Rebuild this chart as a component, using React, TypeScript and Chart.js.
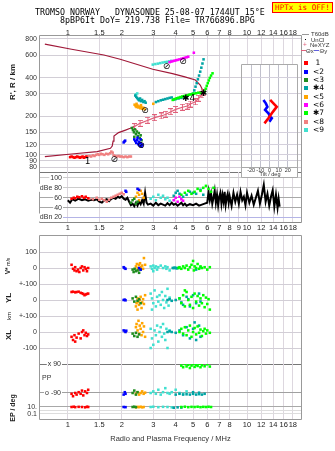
import React, { useEffect, useRef } from 'react';
import { Chart, registerables } from 'chart.js';

Chart.register(...registerables);

const SANS = "'Liberation Sans', Arial, sans-serif";
const MONO = "'DejaVu Sans Mono', 'Liberation Mono', monospace";
const GRID = '#ddd7df';
const HGRID = '#d2ced6';
const X_MIN = 0.745;
const X_MAX = 20;

type Pt = [number, number];

// ---------- axes / ticks ----------
const freqLabelsTop = [1, 1.5, 2, 3, 4, 5, 6, 7, 8, 10, 12, 14, 16, 18];
const freqLabelsMid = [1, 1.5, 2, 3, 4, 5, 6, 7, 8, 9, 10, 12, 14, 16, 18];
const heightTicks = [80, 90, 100, 120, 150, 200, 300, 400, 600, 800];
const dbTicks = [20, 40, 60, 80, 100];
const tiltTicks = [-20, -10, 0, 10, 20];

const classColors = ['#ff0000', '#0000ff', '#1e8c1e', '#00a4a4', '#ffa500', '#ff00ff', '#00ff00', '#f08080', '#40e0d0'];
const classGlyphs = ['', '<', '<', '\u2731', '<', '<', '\u2731', '<', '<'];
const classNames = ['1', '2', '3', '4', '5', '6', '7', '8', '9'];

// ---------- height panel (f MHz, virtual height km) ----------
const c1Height: Pt[] = [[1.03, 96], [1.05, 97], [1.07, 96], [1.09, 95], [1.11, 96], [1.13, 97], [1.15, 96], [1.17, 95], [1.19, 96], [1.21, 97], [1.23, 95], [1.25, 96], [1.27, 97]];
const c8Height: Pt[] = [[1.29, 97], [1.32, 98], [1.35, 97], [1.38, 99], [1.41, 98], [1.44, 100], [1.47, 101], [1.5, 100], [1.53, 102], [1.56, 101], [1.6, 100], [1.64, 102], [1.68, 101], [1.72, 103], [1.75, 106], [1.78, 104], [1.8, 99], [1.84, 98], [1.88, 97], [1.92, 98], [1.96, 97], [2.0, 97], [2.05, 96], [2.1, 97], [2.15, 96], [2.2, 97], [2.25, 97]];
const c2Height: Pt[] = [[2.05, 125], [2.07, 127], [2.09, 129], [2.35, 132], [2.38, 128], [2.41, 124], [2.44, 130], [2.47, 121], [2.5, 126], [2.52, 118], [2.55, 123], [2.58, 116], [2.61, 120], [2.45, 136], [2.55, 132]];
const c3Height: Pt[] = [[2.28, 162], [2.31, 156], [2.34, 150], [2.37, 158], [2.4, 145], [2.43, 152], [2.46, 140], [2.49, 148], [2.52, 135], [2.55, 142], [2.58, 130], [2.35, 138]];
const c4Height: Pt[] = [[2.38, 290], [2.41, 283], [2.44, 277], [2.47, 271], [2.5, 266], [2.53, 275], [2.56, 262], [2.6, 268], [2.64, 258], [2.68, 262], [2.72, 255], [3.1, 258], [3.2, 262], [3.3, 266], [3.4, 269], [3.5, 272], [3.6, 275], [3.7, 278], [3.8, 280], [3.9, 270], [4.0, 272], [4.15, 275], [4.3, 278], [4.45, 280], [4.6, 283], [5.0, 300], [5.08, 318], [5.16, 340], [5.24, 362], [5.32, 388], [5.4, 415], [5.48, 445], [5.56, 478], [5.64, 515], [5.72, 555]];
const c5Height: Pt[] = [[2.36, 246], [2.39, 240], [2.42, 236], [2.45, 242], [2.48, 234], [2.51, 238], [2.54, 231], [2.57, 236], [2.6, 229], [2.64, 233], [2.68, 227], [2.42, 250], [2.56, 244], [3.0, 250]];
const c6Height: Pt[] = [[3.7, 528], [3.78, 533], [3.86, 538], [3.94, 542], [4.02, 546], [4.1, 550], [4.2, 555], [4.3, 560], [4.4, 566], [4.5, 571], [4.6, 576], [4.7, 582], [5.05, 625]];
const c7Height: Pt[] = [[3.85, 268], [3.95, 272], [4.05, 276], [4.15, 279], [4.25, 282], [4.35, 285], [4.45, 287], [4.55, 289], [4.65, 291], [4.75, 294], [4.85, 296], [4.95, 298], [5.05, 300], [5.2, 302], [5.35, 305], [5.5, 303], [5.8, 312], [5.88, 328], [5.96, 345], [6.04, 362], [6.12, 380], [6.2, 398], [6.3, 415], [6.42, 432]];
const c9Height: Pt[] = [[2.4, 296], [2.44, 301], [2.98, 505], [3.08, 510], [3.18, 514], [3.28, 519], [3.38, 524], [3.48, 528], [3.58, 531], [3.68, 535], [3.78, 540]];

const profileBottom: Pt[] = [[0.745, 97], [1.05, 101.5], [1.46, 106], [1.73, 112.5], [1.77, 117], [1.79, 128], [1.81, 140], [1.92, 149], [2.1, 156], [2.23, 161], [2.35, 166]];
const profileTop: Pt[] = [[0.745, 730], [1.05, 665], [1.59, 600], [1.96, 556], [2.98, 465], [3.84, 430], [4.5, 405], [5.15, 383], [5.48, 350], [5.75, 305]];
const neXYZ: Pt[] = [[2.35, 166], [2.53, 176], [2.8, 186], [3.05, 195], [3.32, 201], [3.53, 207], [3.76, 217], [4.0, 226], [4.36, 235], [4.64, 240], [4.83, 249], [5.15, 259], [5.37, 276], [5.6, 293], [5.75, 305]];

const heightMarks = [
  { f: 1.29, h: 89, t: '1' },
  { f: 1.82, h: 91, t: '\u2298' },
  { f: 2.56, h: 118, t: '\u2298' },
  { f: 2.7, h: 223, t: '\u2298' },
  { f: 3.55, h: 486, t: '\u2298' },
  { f: 4.4, h: 530, t: '\u2298' },
  { f: 4.72, h: 274, t: '\u27314' },
  { f: 5.72, h: 302, t: '\u2731' },
];

// ---------- tilt inset (deg, km) ----------
const tiltX: Pt[] = [[0.7, 268], [4.3, 252], [7.9, 237], [5.3, 224], [2.5, 211], [-1.2, 193], [-5.5, 176]];
const tiltY: Pt[] = [[-6.6, 268], [-4.0, 252], [-2.3, 237], [-4.8, 224], [-1.2, 211], [0.7, 198], [2.5, 193], [-0.1, 181]];

// ---------- amplitude panel (dB) ----------
const unclAmp: Pt[] = [[1.0, 55], [1.03, 50], [1.06, 57], [1.1, 54], [1.15, 58], [1.2, 55], [1.25, 57], [1.3, 54], [1.35, 56], [1.4, 55], [1.45, 57], [1.5, 52], [1.55, 50], [1.6, 55], [1.65, 57], [1.7, 53], [1.75, 58], [1.8, 60], [1.85, 58], [1.9, 62], [1.95, 60], [2.0, 63], [2.05, 58], [2.1, 56], [2.15, 60], [2.2, 52], [2.25, 45], [2.3, 48], [2.35, 43], [2.4, 50], [2.45, 44], [2.5, 52], [2.55, 47], [2.6, 55], [2.65, 48], [2.7, 70], [2.75, 50], [2.8, 46], [2.9, 48], [3.0, 44], [3.1, 50], [3.2, 45], [3.3, 48], [3.4, 46], [3.5, 44], [3.6, 49], [3.7, 45], [3.8, 50], [3.9, 46], [4.0, 48], [4.1, 44], [4.2, 47], [4.3, 50], [4.4, 45], [4.5, 48], [4.6, 44], [4.8, 47], [5.0, 45], [5.2, 48], [5.4, 44], [5.6, 46], [5.8, 48], [6.0, 50], [6.1, 72], [6.2, 55], [6.3, 68], [6.4, 48], [6.5, 60], [6.6, 74], [6.7, 50], [6.8, 66], [6.9, 45], [7.0, 62], [7.1, 70], [7.2, 48], [7.3, 65], [7.4, 52], [7.5, 72], [7.6, 46], [7.7, 60], [7.8, 68], [7.9, 50], [8.0, 63], [8.2, 44], [8.4, 70], [8.6, 52], [8.8, 66], [9.0, 48], [9.2, 72], [9.4, 55], [9.6, 62], [9.8, 45], [10.0, 70], [10.3, 50], [10.6, 64], [10.9, 46], [11.2, 60], [11.5, 74], [11.8, 48], [12.1, 66], [12.4, 86], [12.7, 52], [13.0, 68], [13.3, 44], [13.6, 62], [13.9, 75], [14.2, 42], [14.5, 66], [14.8, 40], [15.0, 58], [15.2, 42]];
const c1Amp: Pt[] = [[1.05, 58], [1.08, 60], [1.1, 59], [1.13, 62], [1.16, 61], [1.2, 63], [1.23, 60], [1.26, 62], [1.3, 59]];
const c8Amp: Pt[] = [[1.32, 58], [1.38, 57], [1.45, 60], [1.5, 56], [1.55, 58], [1.6, 55], [1.65, 52], [1.7, 56], [1.75, 60], [1.8, 62], [1.85, 64], [1.9, 66], [1.95, 68], [2.0, 70], [2.05, 67]];
const c2Amp: Pt[] = [[2.1, 74], [2.12, 72], [2.45, 78], [2.5, 76]];
const c3Amp: Pt[] = [[2.25, 50], [2.3, 55], [2.35, 58], [2.4, 48], [2.45, 52]];
const c5Amp: Pt[] = [[2.4, 62], [2.45, 70], [2.5, 66], [2.55, 74], [2.6, 68], [2.65, 60], [2.5, 55]];
const c9Amp: Pt[] = [[2.9, 58], [3.0, 62], [3.1, 55], [3.2, 66], [3.3, 60], [3.4, 64], [3.5, 57], [3.6, 60], [3.7, 54]];
const c4Amp: Pt[] = [[3.9, 64], [4.0, 70], [4.1, 74], [4.2, 68], [4.4, 62], [4.6, 66], [4.8, 72], [5.0, 70], [5.2, 68], [5.5, 76], [5.7, 66]];
const c6Amp: Pt[] = [[3.9, 55], [4.0, 60], [4.1, 52], [4.2, 62], [4.3, 57], [4.4, 54]];
const c7Amp: Pt[] = [[4.3, 66], [4.5, 70], [4.7, 74], [4.9, 68], [5.1, 72], [5.3, 78], [5.5, 74], [5.7, 80], [5.9, 84], [6.1, 78], [6.3, 72], [6.5, 80]];

// ---------- V* (m/s) ----------
const c1Vel: Pt[] = [[1.05, 20], [1.07, -5], [1.09, -15], [1.1, 5], [1.12, -20], [1.14, -10], [1.16, -25], [1.18, 0], [1.2, 10], [1.22, -15], [1.24, 5], [1.26, -5], [1.28, -20], [1.3, 0]];
const c2Vel: Pt[] = [[2.05, 5], [2.07, 0], [2.1, -5], [2.5, 0], [2.55, -10]];
const c3Vel: Pt[] = [[2.3, -10], [2.33, -25], [2.36, -5], [2.4, -20], [2.45, -15], [2.5, -30], [2.55, -10]];
const c5Vel: Pt[] = [[2.4, 10], [2.43, 25], [2.46, 0], [2.48, -10], [2.5, 20], [2.53, 30], [2.56, 5], [2.6, 15], [2.63, -5], [2.66, 62], [2.7, 20]];
const c9Vel: Pt[] = [[2.9, 10], [2.95, -5], [3.0, 15], [3.0, -20], [3.05, 0], [3.1, 10], [3.15, -10], [3.2, 5], [3.3, 15], [3.4, 0], [3.5, 10], [3.55, -5], [3.6, 5], [3.7, -15]];
const c4Vel: Pt[] = [[3.85, 0], [3.9, 0], [3.95, 2], [4.0, 0], [4.05, -2], [4.1, 0], [5.2, -10], [5.5, 5]];
const c7Vel: Pt[] = [[4.15, 0], [4.2, 5], [4.3, -5], [4.4, 10], [4.5, 0], [4.6, 15], [4.7, -10], [4.8, 5], [4.9, 20], [5.0, 44], [5.05, -15], [5.1, 10], [5.2, 0], [5.3, 25], [5.4, -5], [5.5, 10], [5.6, 0], [5.8, 5], [6.0, -10], [6.2, 5]];

// ---------- YL (km) ----------
const c1YL: Pt[] = [[1.05, 50], [1.07, 52], [1.1, 48], [1.12, 50], [1.15, 52], [1.18, 45], [1.2, 42], [1.22, 38], [1.24, 30], [1.26, 35], [1.28, 38], [1.3, 40]];
const c2YL: Pt[] = [[2.05, 0], [2.08, 2], [2.1, -2]];
const c3YL: Pt[] = [[2.3, 10], [2.35, -10], [2.4, 20], [2.45, -5], [2.5, 5], [2.55, -20]];
const c5YL: Pt[] = [[2.4, -40], [2.42, -20], [2.45, 10], [2.45, -60], [2.48, -10], [2.5, -30], [2.52, 0], [2.55, 20], [2.58, -50], [2.6, -15], [2.63, 5], [2.66, -25], [2.7, 30]];
const c9YL: Pt[] = [[2.9, 40], [2.95, 10], [2.95, -60], [3.0, -20], [3.05, 60], [3.1, -40], [3.15, 20], [3.2, -10], [3.25, 30], [3.3, -30], [3.35, 50], [3.4, 0], [3.45, -50], [3.5, 25], [3.55, -15], [3.6, 70], [3.65, -35], [3.7, 15]];
const c4YL: Pt[] = [[3.6, 0], [3.7, 5], [3.8, -5], [4.0, 0], [4.2, 10], [4.3, -15], [4.4, -30], [4.6, 20], [4.7, 5], [4.8, -40], [5.0, 30], [5.2, -20], [5.4, 40], [5.5, -10]];
const c7YL: Pt[] = [[4.2, 10], [4.3, -20], [4.4, 30], [4.5, -40], [4.5, 60], [4.6, 50], [4.7, 0], [4.8, -30], [4.9, 20], [5.0, -50], [5.1, 40], [5.2, -10], [5.3, 25], [5.4, -35], [5.5, 10], [5.6, -20], [5.7, 30], [5.8, -45], [5.9, 15], [6.0, -25], [6.1, 5], [6.2, -60]];

// ---------- XL (km) ----------
const c1XL: Pt[] = [[1.05, -30], [1.07, -50], [1.09, -20], [1.1, -60], [1.12, -35], [1.15, -10], [1.18, -40], [1.2, 0], [1.22, 10], [1.24, -20], [1.26, -5], [1.28, -25], [1.3, -15]];
const c2XL: Pt[] = [[2.05, 10], [2.08, 5], [2.1, 0], [2.12, 8]];
const c3XL: Pt[] = [[2.3, -10], [2.35, -25], [2.4, -5], [2.45, -30], [2.5, -15]];
const c5XL: Pt[] = [[2.4, 30], [2.42, 50], [2.45, 10], [2.48, 70], [2.5, -10], [2.52, 40], [2.55, 20], [2.58, -20], [2.6, 55], [2.63, 0], [2.66, 35], [2.7, -30]];
const c9XL: Pt[] = [[2.9, 20], [2.9, -100], [2.95, -40], [3.0, -80], [3.05, 10], [3.1, -20], [3.15, 40], [3.2, -60], [3.25, 0], [3.3, 30], [3.35, -30], [3.4, 50], [3.45, -10], [3.5, -50], [3.55, 20], [3.6, -100], [3.7, 10]];
const c4XL: Pt[] = [[3.6, 0], [3.7, 5], [3.8, 0], [4.0, -5], [4.2, 10], [4.4, -20], [4.6, 30], [4.8, -40], [5.0, 20], [5.1, 60], [5.2, -50], [5.4, 40], [5.5, -30]];
const c7XL: Pt[] = [[4.2, 0], [4.3, 20], [4.4, -10], [4.5, 30], [4.6, -20], [4.7, 10], [4.8, 40], [4.9, -30], [5.0, 0], [5.1, 25], [5.2, -15], [5.3, 35], [5.4, -5], [5.5, 15], [5.6, -25], [5.7, 5], [5.8, 20], [5.9, -10], [6.0, 10], [6.2, -5]];

// ---------- PP (deg) ----------
const c1PP: Pt[] = [[1.05, -95], [1.07, -110], [1.1, -90], [1.12, -100], [1.15, -85], [1.18, -95], [1.2, -75], [1.22, -105], [1.25, -80], [1.28, -90], [1.3, -70]];
const c2PP: Pt[] = [[2.05, -100], [2.08, -85], [2.1, -95]];
const c3PP: Pt[] = [[2.3, -90], [2.35, -75], [2.4, -100], [2.45, -85]];
const c5PP: Pt[] = [[2.4, -95], [2.45, -85], [2.5, -100], [2.55, -90], [2.6, -80], [2.65, -95], [2.7, -88]];
const c9PP: Pt[] = [[2.9, -90], [3.0, -80], [3.1, -95], [3.2, -70], [3.3, -100], [3.4, -85], [3.5, -60], [3.6, -90], [3.7, -95], [3.8, -85], [4.0, -70], [4.2, -90], [4.4, -95], [4.6, -80]];
const c4PP: Pt[] = [[4.0, -100], [4.2, -95], [4.4, -100], [4.6, -98], [4.8, -100], [5.0, -95], [5.0, -85], [5.2, -100], [5.4, -97], [5.4, -88], [5.6, -100], [5.8, -95]];
const c7PP: Pt[] = [[4.3, 80], [4.4, 70], [4.5, 90], [4.6, 75], [4.7, 85], [4.8, 65], [4.9, 80], [5.0, 90], [5.1, 72], [5.2, 85], [5.3, 78], [5.4, 92], [5.5, 70], [5.6, 82], [5.8, 76], [6.0, 88], [6.2, 74]];

// ---------- EP (deg) ----------
const c1EP: Pt[] = [[1.05, 10], [1.08, 12], [1.1, 9], [1.15, 11], [1.2, 10], [1.25, 8], [1.28, 12], [1.3, 10]];
const c2EP: Pt[] = [[2.05, 10], [2.1, 9]];
const c3EP: Pt[] = [[2.3, 10], [2.35, 12], [2.4, 9]];
const c5EP: Pt[] = [[2.4, 8], [2.45, 11], [2.5, 9], [2.55, 12], [2.6, 8], [2.65, 10]];
const c9EP: Pt[] = [[2.9, 10], [3.0, 12], [3.2, 9], [3.4, 11], [3.6, 10], [3.8, 8]];
const c4EP: Pt[] = [[3.9, 6], [4.1, 8], [4.3, 7]];
const c7EP: Pt[] = [[4.3, 10], [4.5, 12], [4.7, 9], [4.9, 11], [5.1, 10], [5.3, 12], [5.5, 9], [5.7, 11], [5.9, 10], [6.1, 12], [6.3, 10]];

// ---------- helpers ----------
const toXY = (a: Pt[]) => a.map(([x, y]) => ({ x, y }));

function dots(a: Pt[], color: string, r = 1.8) {
  return {
    data: toXY(a), showLine: false, pointStyle: 'rect', pointRadius: r, pointHoverRadius: r,
    pointBorderWidth: 0, pointBackgroundColor: color, backgroundColor: color, borderColor: color,
  };
}
function path(a: Pt[], color: string, w: number, extra: any = {}) {
  return {
    data: toXY(a), showLine: true, pointRadius: 0, borderColor: color, backgroundColor: color,
    borderWidth: w, tension: 0, fill: false, ...extra,
  };
}
const col = (n: number) => classColors[n - 1];

function xAxis(pos: string, labels: boolean, ticks: number[], h: number, pad: number) {
  return {
    type: 'logarithmic', min: X_MIN, max: X_MAX, position: pos,
    afterBuildTicks: (s: any) => { s.ticks = ticks.map((v) => ({ value: v })); },
    afterFit: (s: any) => { s.height = h; },
    ticks: {
      display: labels, autoSkip: false, maxRotation: 0, minRotation: 0, padding: pad, color: '#222',
      font: { family: SANS, size: 7.5, lineHeight: 1 }, callback: (v: any) => String(v),
    },
    grid: { color: GRID, drawTicks: false, lineWidth: 1 },
    border: { display: false },
  };
}

function yAxis(type: string, min: number, max: number, grid: number[], gridColor?: (v: number) => string, width = 40) {
  return {
    type, min, max, position: 'left',
    afterBuildTicks: (s: any) => { s.ticks = grid.map((v) => ({ value: v })); },
    afterFit: (s: any) => { s.width = width; },
    ticks: { display: false },
    grid: { drawTicks: false, lineWidth: 1, color: (c: any) => (gridColor && c.tick ? gridColor(c.tick.value) : HGRID) },
    border: { display: false },
  };
}

function overlay(o: any) {
  return {
    id: 'overlay',
    beforeDraw(chart: any) {
      if (!o.bg) return;
      const { ctx, chartArea: a } = chart;
      ctx.save();
      ctx.fillStyle = o.bg;
      ctx.fillRect(a.left, a.top, a.right - a.left, a.bottom - a.top + (o.boxExtra || 0));
      ctx.restore();
    },
    afterDraw(chart: any) {
      const { ctx, chartArea: a, scales } = chart;
      ctx.save();
      const L = Math.round(a.left) - 0.5, R = Math.round(a.right) + 0.5;
      const T = Math.round(a.top) - 0.5, B = Math.round(a.bottom) + 0.5;
      const seg = (x1: number, y1: number, x2: number, y2: number, c: string) => {
        ctx.strokeStyle = c; ctx.lineWidth = 1; ctx.beginPath(); ctx.moveTo(x1, y1); ctx.lineTo(x2, y2); ctx.stroke();
      };
      const f = o.frame || {};
      const BB = B + (o.boxExtra || 0);
      if (f.top) seg(L, T, R, T, f.top);
      if (f.bottom) seg(L, B, R, B, f.bottom);
      if (f.left) seg(L, T, L, BB, f.left);
      if (f.right) seg(R, T, R, BB, f.right);
      if (o.boxExtra && f.bottom) seg(L, BB, R, BB, f.bottom);
      for (const l of o.labels || []) {
        const y = scales.y.getPixelForValue(l.v);
        ctx.font = `${l.weight || 400} ${l.size || 7}px ${SANS}`;
        ctx.textBaseline = 'middle';
        ctx.textAlign = l.align || 'right';
        const x = l.x ?? 37;
        if (l.bg) {
          const w = ctx.measureText(l.t).width;
          const x0 = ctx.textAlign === 'right' ? x - w : x;
          ctx.fillStyle = '#ffffff';
          ctx.fillRect(x0 - 1, y - 4, w + 2, 8);
        }
        ctx.fillStyle = l.color || '#333';
        ctx.fillText(l.t, x, y);
      }
      for (const m of o.marks || []) {
        const x = scales.x.getPixelForValue(m.f);
        const y = scales.y.getPixelForValue(m.h);
        ctx.font = `${m.size || 9}px 'DejaVu Sans', sans-serif`;
        ctx.textAlign = 'center';
        ctx.textBaseline = 'middle';
        ctx.fillStyle = '#000';
        ctx.fillText(m.t, x, y);
      }
      ctx.restore();
    },
  };
}

const PAD = 6;

function panel(p: any) {
  const axis = p.axis || 'none';
  const axisH = p.axisH || 0;
  const top = axis === 'top' ? p.plotTop - axisH - PAD : p.plotTop - PAD;
  const height = p.plotBottom - p.plotTop + axisH + 2 * PAD;
  return {
    left: 0, top, width: 335, height,
    make: () => ({
      type: 'scatter',
      data: { datasets: p.datasets() },
      options: {
        animation: false, responsive: false, devicePixelRatio: 1, events: [],
        layout: { padding: { top: PAD, bottom: PAD, left: 0, right: 34 } },
        plugins: { legend: { display: false }, tooltip: { enabled: false } },
        scales: {
          x: xAxis(axis === 'top' ? 'top' : 'bottom', !!p.xLabels, p.xTicks || freqLabelsTop, axisH, p.labelPad ?? 2),
          y: p.y,
        },
      },
      plugins: [overlay(p.overlay || {})],
    }),
  };
}

function makeIMarker(color: string) {
  const c = document.createElement('canvas');
  c.width = 5; c.height = 7;
  const g = c.getContext('2d')!;
  g.fillStyle = color;
  g.fillRect(0, 0, 5, 1); g.fillRect(2, 0, 1, 7); g.fillRect(0, 6, 5, 1);
  return c;
}

const FR = '#999';
const FD = '#777';

const panels = [
  // virtual height panel
  panel({
    plotTop: 36, plotBottom: 172, axis: 'top', axisH: 14, xLabels: true, labelPad: -1,
    y: yAxis('logarithmic', 73.5, 844, heightTicks),
    datasets: () => [
      dots(c1Height, col(1)), dots(c2Height, col(2)), dots(c3Height, col(3)), dots(c5Height, col(5)),
      dots(c6Height, col(6)), dots(c7Height, col(7)), dots(c4Height, col(4)), dots(c9Height, col(9)),
      dots(c8Height, col(8)),
      path(neXYZ, '#e0607a', 1.2, { pointStyle: makeIMarker('#e0607a'), pointRadius: 3 }),
      path(profileBottom, '#a01838', 1.2),
      path(profileTop, '#a01838', 1.2),
    ],
    overlay: {
      frame: { top: FR, left: FR, right: FR, bottom: FD },
      labels: heightTicks.map((v) => ({ v, t: String(v) })),
      marks: heightMarks,
    },
  }),
  // amplitude panel
  panel({
    plotTop: 172, plotBottom: 222, axis: 'bottom', axisH: 14, xLabels: true, labelPad: 2, xTicks: freqLabelsMid,
    y: yAxis('linear', 11, 112, dbTicks, (v) => (v === 20 ? '#b4b4e6' : v === 60 || v === 40 ? '#a8a8a8' : '#cccccc')),
    datasets: () => [
      dots(c1Amp, col(1)), dots(c8Amp, col(8)), dots(c2Amp, col(2)), dots(c3Amp, col(3)), dots(c5Amp, col(5)),
      dots(c6Amp, col(6)), dots(c7Amp, col(7)), dots(c4Amp, col(4)), dots(c9Amp, col(9)),
      path(unclAmp, '#000000', 2),
    ],
    overlay: {
      frame: { left: FR, right: FR, bottom: '#888' },
      labels: [
        { v: 100, t: '100', x: 62, bg: true }, { v: 80, t: 'dBe 80', x: 62, bg: true },
        { v: 60, t: '60', x: 62, bg: true }, { v: 40, t: '40', x: 62, bg: true }, { v: 20, t: 'dBn 20', x: 62, bg: true },
      ],
    },
  }),
  // V*
  panel({
    plotTop: 236, plotBottom: 284,
    y: yAxis('linear', -100, 200, [100, 0, -100]),
    datasets: () => [
      dots(c1Vel, col(1)), dots(c2Vel, col(2)), dots(c3Vel, col(3)), dots(c5Vel, col(5)),
      dots(c7Vel, col(7)), dots(c4Vel, col(4)), dots(c9Vel, col(9)),
    ],
    overlay: { frame: { top: FR, left: FR, right: FR }, labels: [{ v: 100, t: '100' }, { v: 0, t: '0' }] },
  }),
  // YL
  panel({
    plotTop: 284, plotBottom: 316,
    y: yAxis('linear', -100, 100, [100, 0, -100]),
    datasets: () => [
      dots(c1YL, col(1)), dots(c2YL, col(2)), dots(c3YL, col(3)), dots(c5YL, col(5)),
      dots(c7YL, col(7)), dots(c4YL, col(4)), dots(c9YL, col(9)),
    ],
    overlay: { frame: { left: FR, right: FR }, labels: [{ v: 100, t: '+-100' }, { v: 0, t: '0' }] },
  }),
  // XL
  panel({
    plotTop: 316, plotBottom: 364,
    y: yAxis('linear', -200, 100, [100, 0, -100]),
    datasets: () => [
      dots(c1XL, col(1)), dots(c2XL, col(2)), dots(c3XL, col(3)), dots(c5XL, col(5)),
      dots(c7XL, col(7)), dots(c4XL, col(4)), dots(c9XL, col(9)),
    ],
    overlay: { frame: { left: FR, right: FR, bottom: FD }, labels: [{ v: 100, t: '+-100' }, { v: 0, t: '0' }, { v: -100, t: '-100' }] },
  }),
  // PP
  panel({
    plotTop: 364, plotBottom: 400,
    y: yAxis('linear', -133.5, 90, [-90], (v) => (v === -90 ? '#a0a0a0' : HGRID)),
    datasets: () => [
      dots(c1PP, col(1)), dots(c2PP, col(2)), dots(c3PP, col(3)), dots(c5PP, col(5)),
      dots(c7PP, col(7)), dots(c4PP, col(4)), dots(c9PP, col(9)),
    ],
    overlay: {
      frame: { left: FR, right: FR },
      labels: [
        { v: 90, t: 'x 90', x: 61, bg: true }, { v: -90, t: 'o -90', x: 61, bg: true },
        { v: 3, t: 'PP', x: 42, align: 'left' },
      ],
    },
  }),
  // EP
  panel({
    plotTop: 400, plotBottom: 419, axis: 'bottom', axisH: 16, xLabels: true, labelPad: 2,
    y: yAxis('logarithmic', 0.0037, 1000, [10, 1, 0.1], (v) => (v === 10 ? '#a8a8a8' : '#dddddd')),
    datasets: () => [
      dots(c1EP, col(1)), dots(c2EP, col(2)), dots(c3EP, col(3)), dots(c5EP, col(5)),
      dots(c7EP, col(7)), dots(c4EP, col(4)), dots(c9EP, col(9)),
    ],
    overlay: { frame: { left: FR, right: FR, bottom: FR }, labels: [{ v: 10, t: '10.' }, { v: 0.1, t: '0.1' }] },
  }),
];

// tilt inset
const inset = {
  left: 236, top: 59, width: 67, height: 120,
  make: () => ({
    type: 'scatter',
    data: { datasets: [path(tiltX, '#ff0000', 2.6), path(tiltY, '#0000ff', 2.6)] },
    options: {
      animation: false, responsive: false, devicePixelRatio: 1, events: [],
      layout: { padding: { top: 6, bottom: 2, left: 6, right: 6 } },
      plugins: { legend: { display: false }, tooltip: { enabled: false } },
      scales: {
        x: {
          type: 'linear', min: -30, max: 30, position: 'bottom',
          afterBuildTicks: (s: any) => { s.ticks = tiltTicks.map((v) => ({ value: v })); },
          afterFit: (s: any) => { s.height = 10; },
          ticks: { autoSkip: false, maxRotation: 0, padding: 0.5, color: '#333', font: { family: SANS, size: 5.5, lineHeight: 1 }, callback: (v: any) => String(v) },
          grid: { color: '#c0c0cc', drawTicks: false },
          border: { display: false },
        },
        y: {
          type: 'logarithmic', min: 80.4, max: 501.5, position: 'left',
          afterBuildTicks: (s: any) => { s.ticks = heightTicks.filter((v) => v < 500).map((v) => ({ value: v })); },
          afterFit: (s: any) => { s.width = 0; },
          ticks: { display: false },
          grid: { color: '#d4d0dc', drawTicks: false },
          border: { display: false },
        },
      },
    },
    plugins: [overlay({ bg: '#ffffff', boxExtra: 10, frame: { top: '#aaa', left: '#aaa', right: '#aaa', bottom: '#aaa' } })],
  }),
};

function ChartCanvas({ spec }: { spec: any }) {
  const ref = useRef<HTMLCanvasElement>(null);
  useEffect(() => {
    const chart = new Chart(ref.current as HTMLCanvasElement, spec.make());
    return () => chart.destroy();
  }, []);
  return (
    <canvas
      ref={ref}
      width={spec.width}
      height={spec.height}
      style={{ position: 'absolute', left: spec.left, top: spec.top, width: spec.width, height: spec.height }}
    />
  );
}

function T({ x, y, children, size = 7, weight = 400, color = '#222', align = 'left', rot = false, family = SANS }: any) {
  let tr = align === 'center' ? 'translate(-50%,-50%)' : align === 'right' ? 'translate(-100%,-50%)' : 'translate(0,-50%)';
  if (rot) tr = 'translate(-50%,-50%) rotate(-90deg)';
  return (
    <div style={{ position: 'absolute', left: x, top: y, transform: tr, fontSize: size, fontWeight: weight, color, fontFamily: family, whiteSpace: 'pre', lineHeight: 1 }}>
      {children}
    </div>
  );
}

export default function App() {
  return (
    <div style={{ position: 'fixed', left: 0, top: 0, width: 335, height: 451, background: '#ffffff', overflow: 'hidden' }}>
      {panels.map((p, i) => <ChartCanvas key={i} spec={p} />)}
      <ChartCanvas spec={inset} />

      <T x={35} y={12.3} size={8.3} family={MONO} color="#000">TROMSO NORWAY   DYNASONDE 25-08-07 1744UT 15°E</T>
      <T x={60} y={20.2} size={8.3} family={MONO} color="#000">8pBP6It DoY= 219.738 File= TR766896.BPG</T>
      <div style={{ position: 'absolute', left: 272, top: 2, width: 61, height: 11, boxSizing: 'border-box', background: '#ffff00', border: '1px solid #ff0000', color: '#ff0000', fontFamily: MONO, fontSize: 7.6, lineHeight: '9px', textAlign: 'center', whiteSpace: 'pre' }}>HPTx is OFF!</div>

      <T x={13} y={82} size={8} weight={700} rot>R', R / km</T>
      <T x={8} y={266} size={6.5} weight={700} rot>V* <span style={{ fontSize: 5, fontWeight: 400 }}>m/s</span></T>
      <T x={9} y={298} size={8} weight={700} rot>YL</T>
      <T x={9} y={316} size={6} rot>km</T>
      <T x={9} y={335} size={8} weight={700} rot>XL</T>
      <T x={12} y={408} size={7} weight={700} rot>EP / deg</T>
      <T x={170.5} y={438.7} size={7.5} align="center" color="#333">Radio and Plasma Frequency / MHz</T>
      <T x={270} y={175} size={5.5} align="center" color="#333">Tilt / deg</T>

      {/* legend */}
      <div style={{ position: 'absolute', left: 302, top: 34, width: 7, height: 1, background: '#999' }} />
      <T x={311} y={34.3} size={6} color="#333">T60dB</T>
      <div style={{ position: 'absolute', left: 305, top: 39, width: 1, height: 1, background: '#000' }} />
      <T x={311} y={39.8} size={6} color="#333">UnCl</T>
      <T x={303} y={45} size={6.5} color="#e0607a">+</T>
      <T x={310} y={45.3} size={6} color="#333">NeXYZ</T>
      <div style={{ position: 'absolute', left: 301, top: 50, width: 5, height: 1, background: '#e0607a' }} />
      <T x={306} y={50.8} size={6} color="#333">Θx</T>
      <div style={{ position: 'absolute', left: 314, top: 50, width: 5, height: 1, background: '#6060e0' }} />
      <T x={319.5} y={50.8} size={6} color="#333">Θy</T>
      {classNames.map((n, i) => {
        const y = 63.3 + i * 8.34;
        return (
          <React.Fragment key={n}>
            <div style={{ position: 'absolute', left: 304, top: y - 2, width: 4, height: 4, background: classColors[i] }} />
            <T x={313} y={y} size={7.5} color="#000" family="'DejaVu Sans', sans-serif">{classGlyphs[i] ? classGlyphs[i] + n : ' ' + n}</T>
          </React.Fragment>
        );
      })}
    </div>
  );
}
